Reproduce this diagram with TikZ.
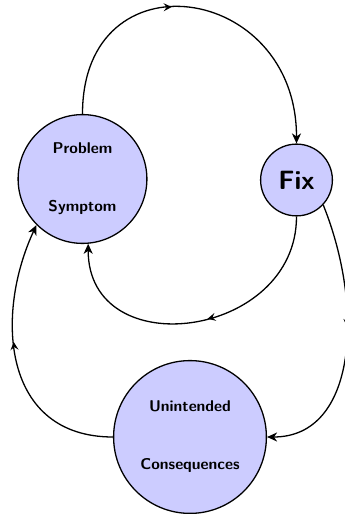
\documentclass[tikz,border=0pt]{standalone}
\usetikzlibrary{arrows.meta, decorations.markings}
\begin{document}
\begin{tikzpicture}[x=1pt, y=1pt,
    loopnode/.style={circle, draw, line width=1.3pt, fill=blue!20, inner sep=0pt, align=center,
        font=\sffamily\bfseries\fontsize{15.6}{18.5}\selectfont},
    flow/.style={line width=1.3pt, -{Stealth[length=10pt, width=9pt, inset=3pt]}},
    midarrow/.style={postaction={decorate}, decoration={markings,
        mark=at position #1 with {\arrow{Stealth[length=8pt, width=8pt, inset=3pt]}}}}]
    \useasboundingbox (0, 0) rectangle (345, 514);

    \node (prob) at (82.5, 335) [loopnode, minimum size=128.8pt] {Problem\\[39.5pt]Symptom};
    \node (fix) at (296.5, 334) [loopnode, minimum size=71.8pt,
        font=\sffamily\bfseries\fontsize{26.5}{30}\selectfont] {Fix};
    \node (unint) at (190, 77) [loopnode, minimum size=152.8pt] {Unintended\\[39.5pt]Consequences};

    \draw [flow, midarrow=0.43] (prob.north) .. controls +(0, 161) and +(0, 161) .. (fix.north);
    \draw [flow, midarrow=0.47] (fix.south) .. controls +(0, -122) and +(0, -122) .. (prob.-85);
    \draw [flow, midarrow=0.45] (fix.-43) .. controls +(-68:110) and +(90, 0) .. (unint.east);
    \draw [flow, midarrow=0.56] (unint.west) .. controls +(-110, 0) and +(245:100) .. (prob.225);
\end{tikzpicture}
\end{document}
